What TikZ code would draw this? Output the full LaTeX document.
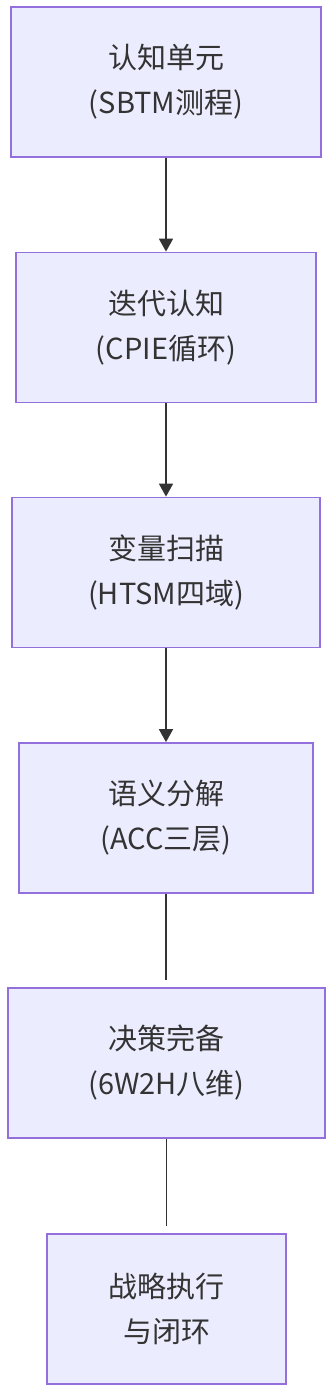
\documentclass[tikz,border=0pt]{standalone}
\usepackage{fontspec}
\setmainfont{Noto Sans CJK SC}
\usetikzlibrary{arrows.meta}
\definecolor{boxfill}{HTML}{ECECFF}
\definecolor{boxdraw}{HTML}{9370DB}
\definecolor{ink}{HTML}{333333}
\tikzset{
  stepbox/.style={draw=boxdraw, fill=boxfill, line width=1.8pt, rectangle,
    minimum height=150pt, inner sep=0pt, align=center, text=ink,
    font=\fontsize{29}{45}\selectfont},
  flow/.style={draw=ink, line width=1.8pt, -{Triangle[width=14pt,length=13pt]}},
  plain/.style={draw=ink, line width=1.8pt, shorten >=7pt},
}
\begin{document}
\begin{tikzpicture}[x=1pt,y=-1pt]
\useasboundingbox[fill=white] (0,0) rectangle (330,1400);
\node[stepbox, minimum width=310pt] (a) at (166,82) {认知单元\\(SBTM测程)};
\node[stepbox, minimum width=300pt] (b) at (166,327.5) {迭代认知\\(CPIE循环)};
\node[stepbox, minimum width=308pt] (c) at (166,572.5) {变量扫描\\(HTSM四域)};
\node[stepbox, minimum width=294pt] (d) at (166,818) {语义分解\\(ACC三层)};
\node[stepbox, minimum width=317pt] (e) at (166.5,1063) {决策完备\\(6W2H八维)};
\node[stepbox, minimum width=239pt] (f) at (166.5,1309) {战略执行\\与闭环};
\draw[flow] (a.south) -- (b.north);
\draw[flow] (b.south) -- (c.north);
\draw[flow] (c.south) -- (d.north);
\draw[plain] (d.south) -- (d.south |- e.north);
\draw[plain] (e.south) -- (e.south |- f.north);
\end{tikzpicture}
\end{document}
